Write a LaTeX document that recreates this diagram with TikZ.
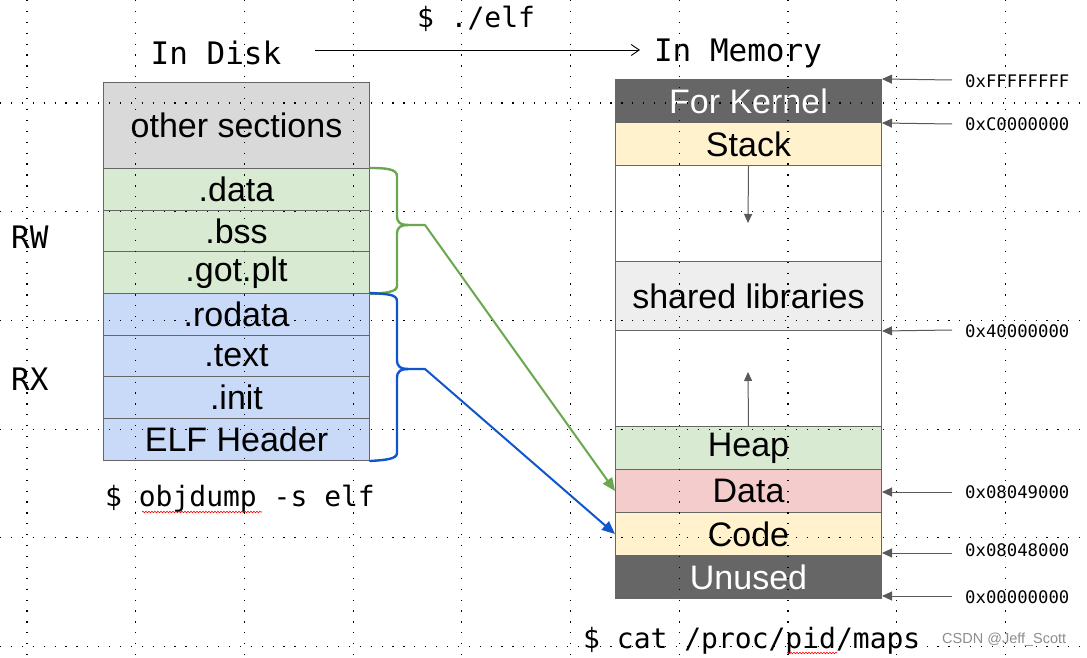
\documentclass[tikz,border=0pt]{standalone}
\usepackage{fontspec}
\setmainfont{Liberation Sans}
\newfontfamily\monof{DejaVu Sans Mono}
\usetikzlibrary{arrows.meta,decorations.pathmorphing}
\definecolor{edgegray}{HTML}{666666}
\definecolor{othergray}{HTML}{D9D9D9}
\definecolor{lgreen}{HTML}{D9EAD3}
\definecolor{lblue}{HTML}{C9DAF8}
\definecolor{lyellow}{HTML}{FFF2CC}
\definecolor{lpink}{HTML}{F4CCCC}
\definecolor{lgray}{HTML}{EEEEEE}
\definecolor{dgray}{HTML}{666666}
\definecolor{arrgray}{HTML}{595959}
\definecolor{bgreen}{HTML}{6AA84F}
\definecolor{bblue}{HTML}{1155CC}
\newcommand\bxfont{\fontsize{34}{40}\selectfont}
\newcommand\ttlfont{\monof\fontsize{31}{36}\selectfont}
\newcommand\cmdfont{\monof\fontsize{28}{32}\selectfont}
\newcommand\adrfont{\monof\fontsize{17.3}{20}\selectfont}
\begin{document}
\begin{tikzpicture}[x=1pt,y=-1pt,
  box/.style={draw=edgegray, line width=1pt, minimum width=266pt, inner sep=0pt, anchor=north west, font=\bxfont},
  dark/.style={box, fill=dgray, text=white},
  addr/.style={draw=arrgray, line width=1pt, -{Triangle[length=10pt,width=9pt]}},
  adrlabel/.style={anchor=west, inner sep=0pt, font=\adrfont},
  growarrow/.style={draw=arrgray, line width=1pt, -{Triangle[length=9pt,width=8pt]}},
  bracegreen/.style={draw=bgreen, line width=2.4pt, line join=round, line cap=round},
  braceblue/.style={draw=bblue, line width=2.4pt, line join=round, line cap=round},
  grid/.style={line width=1.2pt, dash pattern=on 1.2pt off 9.7pt},
  squiggle/.style={draw=red, line width=0.6pt, decorate, decoration={snake, segment length=3pt, amplitude=0.8pt}}
]
\useasboundingbox (0,0) rectangle (1087,658);

% ---- titles
\node[font=\ttlfont, inner sep=0pt] (disk) at (216,53) {In Disk};
\node[font=\ttlfont, inner sep=0pt] (mem) at (738,53) {In Memory};
\node[font=\cmdfont, inner sep=0pt] (run) at (476,19) {\$ ./elf};
\coordinate (runA) at (315,50);
\coordinate (runB) at (640,50);
\draw[line width=0.9pt, -{Straight Barb[length=8pt,width=11pt]}] (runA) -- (runB);

% ---- disk sections
\node[box, fill=othergray, minimum height=86pt] (other) at (103,82) {other sections};
\node[box, fill=lgreen, minimum height=42pt] (sdata) at (103,168) {.data};
\node[box, fill=lgreen, minimum height=41pt] (sbss) at (103,210) {.bss};
\node[box, fill=lgreen, minimum height=42pt] (sgot) at (103,251) {.got.plt};
\node[box, fill=lblue, minimum height=42pt] (srodata) at (103,293) {.rodata};
\node[box, fill=lblue, minimum height=41pt] (stext) at (103,335) {.text};
\node[box, fill=lblue, minimum height=42pt] (sinit) at (103,376) {.init};
\node[box, fill=lblue, minimum height=42pt] (self) at (103,418) {ELF Header};

\node[font=\ttlfont, anchor=west, inner sep=0pt] (rw) at (11,237) {RW};
\node[font=\ttlfont, anchor=west, inner sep=0pt] (rx) at (11,379) {RX};
\node[font=\cmdfont, inner sep=0pt] (objd) at (240,499) {\$ objdump -s elf};

% ---- memory map
\node[dark, minimum height=43pt] (kernel) at (615,79) {For Kernel};
\node[box, fill=lyellow, minimum height=43pt] (stack) at (615,122) {Stack};
\node[box, fill=white, minimum height=96pt] (gap1) at (615,165) {};
\node[box, fill=lgray, minimum height=69pt] (shared) at (615,261) {shared libraries};
\node[box, fill=white, minimum height=96pt] (gap2) at (615,330) {};
\node[box, fill=lgreen, minimum height=43pt] (heap) at (615,426) {Heap};
\node[box, fill=lpink, minimum height=43pt] (mdata) at (615,469) {Data};
\node[box, fill=lyellow, minimum height=43pt] (code) at (615,512) {Code};
\node[dark, minimum height=43pt] (unused) at (615,555) {Unused};

\coordinate (stackgrow) at (748,223);
\coordinate (heapgrow) at (748,372);
\draw[growarrow] (stack.south) -- (stackgrow);
\draw[growarrow] (heap.north) -- (heapgrow);

\node[font=\cmdfont, anchor=west, inner sep=0pt] (maps) at (583,641) {\$ cat /proc/pid/maps};

% ---- addresses
\node[adrlabel] (aF) at (965,81) {0xFFFFFFFF};
\node[adrlabel] (aC) at (965,124) {0xC0000000};
\node[adrlabel] (a4) at (965,331) {0x40000000};
\node[adrlabel] (a9) at (965,492) {0x08049000};
\node[adrlabel] (a8) at (965,550) {0x08048000};
\node[adrlabel] (a0) at (965,597) {0x00000000};
\coordinate (tF) at (952,80);
\coordinate (tC) at (952,124);
\coordinate (t4) at (952,330);
\coordinate (t9) at (952,492);
\coordinate (t8) at (952,553);
\coordinate (t0) at (952,596);
\draw[addr] (tF) -- (kernel.north east);
\draw[addr] (tC) -- (kernel.south east);
\draw[addr] (t4) -- (shared.south east);
\draw[addr] (t9) -- (t9 -| mdata.east);
\draw[addr] (t8) -- (t8 -| code.east);
\draw[addr] (t0) -- (t0 -| unused.east);

% ---- braces
\coordinate (gtip) at (425,225);
\coordinate (btip) at (425,369);
\draw[bracegreen] (sdata.north east) .. controls (386,168) and (397,169) .. (397,176)
  -- (397,216) .. controls (397,223) and (401,225) .. (408,225) -- (gtip);
\draw[bracegreen] (408,225) .. controls (401,225) and (397,227) .. (397,234)
  -- (397,286) .. controls (397,292) and (386,293) .. (sgot.south east);
\draw[braceblue] (srodata.north east) .. controls (386,294) and (397,294) .. (397,301)
  -- (397,360) .. controls (397,367) and (401,369) .. (408,369) -- (btip);
\draw[braceblue] (408,369) .. controls (401,369) and (397,371) .. (397,378)
  -- (397,453) .. controls (397,459) and (386,460) .. (self.south east);
\draw[draw=bgreen, line width=2pt, -{Triangle[length=13pt,width=11pt]}] (gtip) -- (mdata.west);
\draw[draw=bblue, line width=2pt, -{Triangle[length=13pt,width=11pt]}] (btip) -- (code.west);

% ---- spell-check marks
\draw[squiggle] (142,512) -- (262,512);
\draw[squiggle] (787,653) -- (837,653);

% ---- watermark
\node[anchor=west, inner sep=0pt, text=black!45, font=\fontsize{14.5}{16}\selectfont] (wm) at (942,640) {CSDN @Jeff\_Scott};

% ---- dotted grid
\foreach \gx in {27,135.7,244.4,353.1,461.8,570.5,679.2,787.9,896.6,1005.3}
  \draw[grid] (\gx,0) -- (\gx,658);
\foreach \gy in {103,211.7,320.4,429.1,537.8,646.5}
  \draw[grid] (0,\gy) -- (1087,\gy);
\end{tikzpicture}
\end{document}
